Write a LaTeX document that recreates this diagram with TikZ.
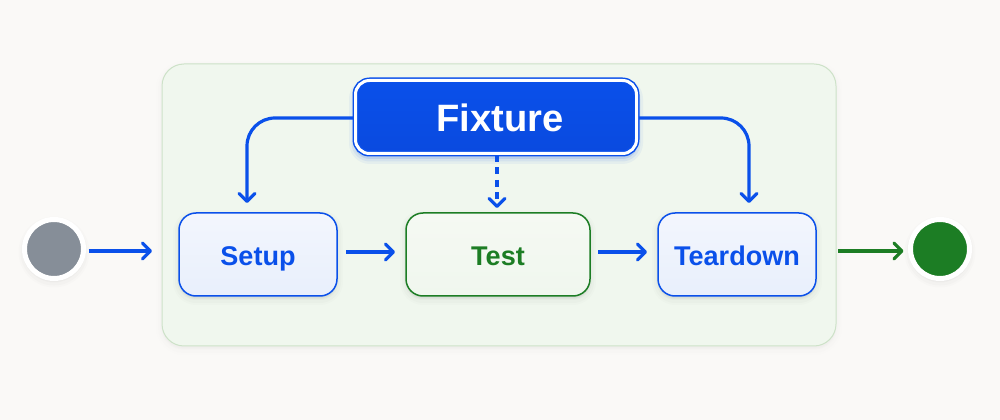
\documentclass[tikz,border=0pt]{standalone}
\usepackage{fontspec}
\setmainfont{Liberation Sans}
\usetikzlibrary{arrows.meta,calc}
\def\px{0.75pt}
\definecolor{pagebg}{HTML}{FAF9F7}
\definecolor{panelfill}{HTML}{F0F7EE}
\definecolor{panelline}{HTML}{CDE2C8}
\definecolor{bluec}{HTML}{0A50EA}
\definecolor{bluedark}{HTML}{0A4ADF}
\definecolor{greenc}{HTML}{1C7D24}
\definecolor{greyc}{HTML}{868E98}
\definecolor{paleblue}{HTML}{E8EFFC}
\definecolor{paleblue2}{HTML}{F3F6FD}
\definecolor{palegreen}{HTML}{F0F7EE}
\definecolor{palegreen2}{HTML}{F5F9F3}
\tikzset{
  softshadow/.style={
    preaction={draw=#1,draw opacity=.012,fill=#1,fill opacity=.012,line width=12*\px,transform canvas={yshift=-3*\px}},
    preaction={draw=#1,draw opacity=.015,fill=#1,fill opacity=.015,line width=8*\px,transform canvas={yshift=-3*\px}},
    preaction={draw=#1,draw opacity=.02,fill=#1,fill opacity=.02,line width=4*\px,transform canvas={yshift=-2*\px}}
  },
  stepbox/.style={rectangle,rounded corners=17*\px,minimum height=83*\px,line width=1.5*\px,
    outer sep=0pt,inner sep=0pt,text height=23*\px,text depth=0pt,
    font=\fontsize{20.3pt}{22pt}\selectfont\bfseries,softshadow=black},
  bluebox/.style={stepbox,draw=bluec,top color=paleblue2,bottom color=paleblue,text=bluec,minimum width=158*\px},
  greenbox/.style={stepbox,draw=greenc,top color=palegreen2,bottom color=palegreen,text=greenc,minimum width=184*\px},
  panelbox/.style={rectangle,rounded corners=22*\px,draw=panelline,fill=panelfill,line width=1*\px,
    minimum width=674*\px,minimum height=282*\px,outer sep=0pt,softshadow=black!35},
  fixturebox/.style={rectangle,rounded corners=14*\px,draw=bluec,double=white,double distance=3*\px,line width=1.5*\px,
    top color=bluec,bottom color=bluedark,minimum width=281*\px,minimum height=73*\px,outer sep=0pt,inner sep=0pt},
  fixturetext/.style={text=white,inner sep=0pt,outer sep=0pt,text height=29.4*\px,text depth=0pt,
    font=\fontsize{28.6pt}{32pt}\selectfont\bfseries},
  haloshadow/.style={rectangle,rounded corners=16*\px,draw=bluec,fill=bluec,minimum width=284*\px,minimum height=76*\px,
    draw opacity=.05,fill opacity=.05,line width=10*\px,transform canvas={yshift=-2*\px}},
  haloinner/.style={haloshadow,draw opacity=.07,fill opacity=.07,line width=5*\px},
  ringdot/.style={circle,draw=white,line width=5*\px,minimum size=59*\px,inner sep=0pt,outer sep=0pt,softshadow=black},
  flow/.style={draw=#1,line width=3.2*\px,-{Straight Barb[length=8*\px,width=16*\px,line cap=round,line join=round]}},
  flow/.default=bluec
}
\begin{document}
\begin{tikzpicture}[x=0.75pt,y=-0.75pt]
\fill[pagebg] (0,0) rectangle (1000,420);
\useasboundingbox (0,0) rectangle (1000,420);
\node[panelbox] (panel) at (499,205) {};
\node[bluebox] (setup) at (258,254.5) {Setup};
\node[greenbox] (test) at (498,254.5) {Test};
\node[bluebox] (teardown) at (737,254.5) {Teardown};
\node[ringdot,fill=greyc] (start) at (54,249) {};
\node[ringdot,fill=greenc] (finish) at (940,249) {};
\node[haloshadow] (halo1) at (496,117) {};
\node[haloinner] (halo2) at (496,117) {};
% connectors
\coordinate (fixtureL) at (354,118);
\coordinate (fixtureR) at (638,118);
\coordinate (setupTop) at (247,203);
\coordinate (teardownTop) at (749,203);
\coordinate (testTop) at (497,208);
\coordinate (fixtureB) at (497,155);
\draw[flow,rounded corners=28*\px] (fixtureL) -| (setupTop);
\draw[flow,rounded corners=28*\px] (fixtureR) -| (teardownTop);
\draw[flow,dash pattern=on 7*\px off 5.5*\px] (fixtureB) -- (testTop);
\draw[flow,shorten <=5*\px,shorten >=27*\px] ([yshift=-2*0.75pt]start.east) -- ([yshift=-2*0.75pt]start.east -| setup.west);
\draw[flow,shorten <=9*\px,shorten >=11*\px] ([yshift=2.5*0.75pt]setup.east) -- ([yshift=2.5*0.75pt]test.west);
\draw[flow,shorten <=8*\px,shorten >=11*\px] ([yshift=2.5*0.75pt]test.east) -- ([yshift=2.5*0.75pt]teardown.west);
\draw[flow=greenc,shorten <=22*\px,shorten >=7*\px] ([yshift=-2*0.75pt]teardown.east |- finish.west) -- ([yshift=-2*0.75pt]finish.west);
\node[fixturebox] (fixture) at (496,117) {};
\node[fixturetext] (fixturelabel) at (500,117) {Fixture};
\end{tikzpicture}
\end{document}
